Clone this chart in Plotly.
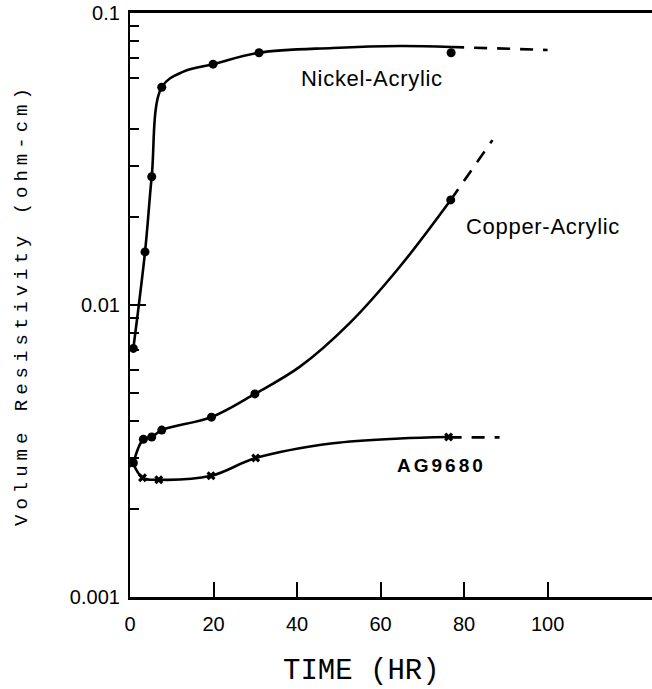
import math
import plotly.graph_objects as go

# ---------------- data ----------------
# measured points (markers)
nickel_t = [0.8, 3.6, 5.2, 7.6, 19.9, 30.9, 76.9]
nickel_v = [0.0071, 0.0152, 0.0275, 0.0557, 0.0668, 0.0731, 0.0731]
copper_t = [0.8, 3.2, 5.2, 7.6, 19.5, 29.9, 76.8]
copper_v = [0.00288, 0.00347, 0.00353, 0.00373, 0.00413, 0.00496, 0.0229]
ag_t = [0.7, 3.0, 6.9, 19.4, 30.1, 76.3]
ag_v = [0.00288, 0.00256, 0.00252, 0.00260, 0.00299, 0.00353]

# hand-drawn fitted curves
nickel_curve_t = [0.8, 3.6, 5.2, 7.6, 12.8, 19.9, 30.9, 48.6, 64.6, 76.9]
nickel_curve_v = [0.0071, 0.0152, 0.0275, 0.0557, 0.0630, 0.0668, 0.0731, 0.0759, 0.0771, 0.0765]
copper_curve_t = [0.8, 3.2, 5.2, 7.6, 19.5, 29.9, 40.7, 52.6, 64.6, 76.8]
copper_curve_v = [0.00288, 0.00347, 0.00353, 0.00373, 0.00413, 0.00496, 0.00615, 0.00867, 0.01352, 0.0229]
ag_curve_t = [0.7, 3.0, 6.9, 19.4, 30.1, 48.6, 64.6, 76.3]
ag_curve_v = [0.00288, 0.00256, 0.00252, 0.00260, 0.00299, 0.00336, 0.00349, 0.00353]

# dashed extrapolations
nickel_dash_t = [76.9, 100.0]
nickel_dash_v = [0.0765, 0.0747]
copper_dash_t = [76.8, 86.8]
copper_dash_v = [0.0229, 0.0367]
ag_dash_t = [76.3, 88.5]
ag_dash_v = [0.00352, 0.00352]

# axis ticks
x_ticks = [0, 20, 40, 60, 80, 100]
x_ticklabels = ["0", "20", "40", "60", "80", "100"]
y_ticks = [0.001, 0.01, 0.1]
y_ticklabels = ["0.001", "0.01", "0.1"]
y_minor_ticks = [0.002, 0.003, 0.004, 0.005, 0.006, 0.007, 0.008, 0.009,
                 0.02, 0.03, 0.04, 0.06, 0.07, 0.08, 0.09]

series_labels = ["Nickel-Acrylic", "Copper-Acrylic", "AG9680"]
x_title = "TIME (HR)"
y_title = "Volume Resistivity (ohm-cm)"

# ---------------- figure ----------------
BLACK = "#000000"
LW = 2.6
fig = go.Figure()

for ct, cv in [(nickel_curve_t, nickel_curve_v), (copper_curve_t, copper_curve_v), (ag_curve_t, ag_curve_v)]:
    fig.add_trace(go.Scatter(x=ct, y=cv, mode="lines",
                             line=dict(color=BLACK, width=LW, shape="spline", smoothing=1.0),
                             hoverinfo="skip"))

for dt, dv in [(nickel_dash_t, nickel_dash_v), (copper_dash_t, copper_dash_v), (ag_dash_t, ag_dash_v)]:
    fig.add_trace(go.Scatter(x=dt, y=dv, mode="lines",
                             line=dict(color=BLACK, width=LW, dash="13px,10px"),
                             hoverinfo="skip"))

fig.add_trace(go.Scatter(x=nickel_t, y=nickel_v, mode="markers",
                         marker=dict(symbol="circle", size=9, color=BLACK)))
fig.add_trace(go.Scatter(x=copper_t, y=copper_v, mode="markers",
                         marker=dict(symbol="circle", size=9, color=BLACK)))
fig.add_trace(go.Scatter(x=ag_t, y=ag_v, mode="markers",
                         marker=dict(symbol="x", size=8, color=BLACK)))

label_font = dict(family="Liberation Sans, Arial, sans-serif", size=22, color=BLACK)
fig.add_annotation(x=57.9, y=math.log10(0.0598), xref="x", yref="y",
                   text='<span style="letter-spacing:0.7px">' + series_labels[0] + '</span>',
                   showarrow=False, font=label_font,
                   xanchor="center", yanchor="middle")
fig.add_annotation(x=98.8, y=math.log10(0.0185), xref="x", yref="y",
                   text='<span style="letter-spacing:0.7px">' + series_labels[1] + '</span>',
                   showarrow=False, font=label_font,
                   xanchor="center", yanchor="middle")
fig.add_annotation(x=74.5, y=math.log10(0.00283), xref="x", yref="y",
                   text='<span style="letter-spacing:3px">' + series_labels[2] + '</span>',
                   showarrow=False,
                   font=dict(family="Liberation Sans, Arial, sans-serif", size=19, color=BLACK, weight="bold"),
                   xanchor="center", yanchor="middle")

# axis titles
fig.add_annotation(x=(361.5 - 130) / 522, y=(597 - 671) / 584, xref="paper", yref="paper",
                   text=x_title, showarrow=False,
                   font=dict(family="Liberation Mono, Courier New, monospace", size=29, color=BLACK),
                   xanchor="center", yanchor="middle")
fig.add_annotation(x=(22 - 130) / 522, y=0.5, xref="paper", yref="paper",
                   text='<span style="letter-spacing:5px">' + y_title + '</span>',
                   textangle=-90, showarrow=False,
                   font=dict(family="Liberation Mono, Courier New, monospace", size=19, color=BLACK),
                   xanchor="center", yanchor="middle")

tick_font = dict(family="Liberation Sans, Arial, sans-serif", size=20, color=BLACK)
fig.update_layout(
    width=652, height=689,
    margin=dict(l=130, r=0, t=13, b=92),
    paper_bgcolor="white", plot_bgcolor="white",
    showlegend=False,
    xaxis=dict(range=[0, 125], showgrid=False, zeroline=False,
               showline=True, linecolor=BLACK, linewidth=2.6, mirror=True,
               tickmode="array", tickvals=x_ticks, ticktext=x_ticklabels,
               ticks="inside", ticklen=15, tickwidth=2, tickcolor=BLACK,
               ticklabelstandoff=7, tickfont=tick_font),
    yaxis=dict(type="log", range=[-3, -1], showgrid=False, zeroline=False,
               showline=True, linecolor=BLACK, linewidth=2.2, mirror=False,
               tickmode="array", tickvals=y_ticks, ticktext=y_ticklabels,
               ticks="inside", ticklen=16, tickwidth=2, tickcolor=BLACK,
               ticklabelstandoff=4, tickfont=tick_font,
               minor=dict(tickmode="array", tickvals=y_minor_ticks, ticks="inside",
                          ticklen=9, tickwidth=2, tickcolor=BLACK, showgrid=False)),
)

fig.write_html("out.html", config={"displayModeBar": False},
               post_script="document.body.style.margin='0';document.body.style.overflow='hidden';")
